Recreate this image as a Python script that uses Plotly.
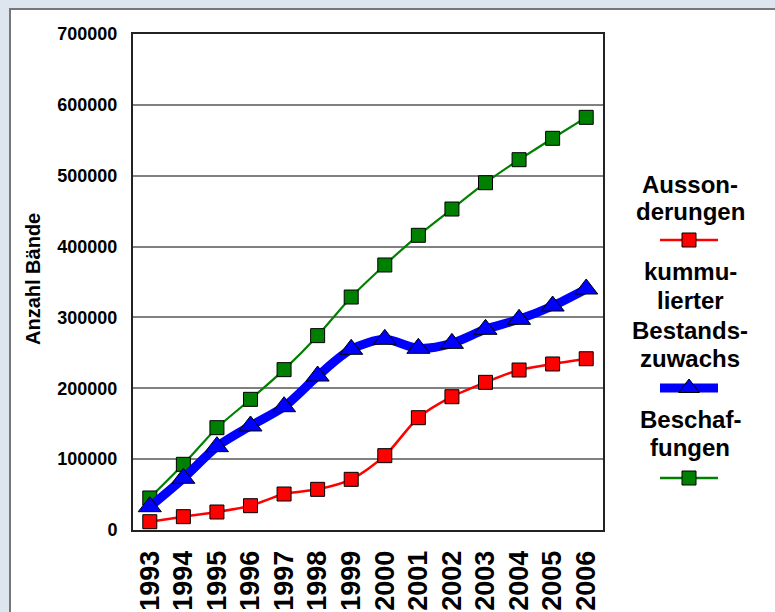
import plotly.graph_objects as go

years = ["1993", "1994", "1995", "1996", "1997", "1998", "1999",
         "2000", "2001", "2002", "2003", "2004", "2005", "2006"]
aussonderungen = [11700, 18800, 25400, 34300, 50800, 57400, 71500,
                  104900, 158500, 188100, 208400, 225800, 234300, 241700]
bestandszuwachs = [32900, 73000, 117600, 146800, 174000, 217300, 255000,
                   269100, 256400, 263400, 283200, 297300, 316100, 340100]
beschaffungen = [45200, 92700, 144400, 184400, 226300, 274300, 328800,
                 374000, 415900, 453000, 490100, 522600, 552800, 582400]
y_ticks = [0, 100000, 200000, 300000, 400000, 500000, 600000, 700000]

W, H = 775, 612
FONT = "Liberation Sans, Arial, sans-serif"

fig = go.Figure()

fig.add_trace(go.Scatter(
    x=years, y=beschaffungen, mode="lines+markers", name="Beschaffungen",
    line=dict(color="#008000", width=2.2, shape="spline", smoothing=0.4),
    marker=dict(symbol="square", size=14, color="#008000", line=dict(color="black", width=1)),
))
fig.add_trace(go.Scatter(
    x=years, y=bestandszuwachs, mode="lines+markers", name="kummulierter Bestandszuwachs",
    line=dict(color="#0000ff", width=9, shape="spline", smoothing=0.8),
    marker=dict(symbol="triangle-up", size=20, color="#0000ff", line=dict(color="black", width=1)),
))
fig.add_trace(go.Scatter(
    x=years, y=aussonderungen, mode="lines+markers", name="Aussonderungen",
    line=dict(color="#ff0000", width=2.5, shape="spline", smoothing=0.8),
    marker=dict(symbol="square", size=14, color="#ff0000", line=dict(color="black", width=1)),
))

# custom legend samples (text above sample, centered)
legend_items = [
    (["Ausson-", "derungen"], [184, 211], 240, "#ff0000", 2.5, "square", 14),
    (["kummu-", "lierter", "Bestands-", "zuwachs"], [271, 300, 330, 358], 388, "#0000ff", 9, "triangle-up", 18),
    (["Beschaf-", "fungen"], [419, 447], 478, "#008000", 2.5, "square", 14),
]
annotations = []
for lines, ys, sy, col, lw, sym, ms in legend_items:
    fig.add_trace(go.Scatter(
        x=[0, 1], y=[sy, sy], mode="lines", xaxis="x2", yaxis="y2",
        line=dict(color=col, width=lw), showlegend=False, hoverinfo="skip"))
    fig.add_trace(go.Scatter(
        x=[0.5], y=[sy], mode="markers", xaxis="x2", yaxis="y2",
        marker=dict(symbol=sym, size=ms, color=col, line=dict(color="black", width=1)),
        showlegend=False, hoverinfo="skip"))
    for t, yy in zip(lines, ys):
        annotations.append(dict(
            text="<b>%s</b>" % t, x=690 / W, y=1 - yy / H, xref="paper", yref="paper",
            xanchor="center", yanchor="middle", showarrow=False,
            font=dict(family=FONT, size=24, color="black")))

annotations.append(dict(
    text="<b>Anzahl Bände</b>", x=33 / W, y=1 - 279 / H, xref="paper", yref="paper",
    textangle=-90, xanchor="center", yanchor="middle", showarrow=False,
    font=dict(family=FONT, size=20, color="black")))

fig.update_layout(
    width=W, height=H, autosize=False,
    margin=dict(l=0, r=0, t=0, b=0, pad=0, autoexpand=False),
    paper_bgcolor="#dde6ee",
    plot_bgcolor="rgba(0,0,0,0)",
    showlegend=False,
    annotations=annotations,
    shapes=[dict(type="rect", xref="paper", yref="paper",
                 x0=10 / W, y0=-0.02, x1=1.02, y1=1 - 9 / H,
                 fillcolor="white", line=dict(color="#777777", width=2), layer="below")],
    xaxis=dict(
        domain=[133 / W, 603 / W], type="category", range=[-0.5, 13.5], automargin=False,
        showline=True, linecolor="#222222", linewidth=2, mirror=True,
        showgrid=False, tickangle=-90, ticks="outside", ticklen=8, tickcolor="rgba(0,0,0,0)",
        tickfont=dict(family=FONT, size=27, color="black"),
        tickvals=years, ticktext=["<b>%s</b>" % y for y in years],
    ),
    yaxis=dict(
        domain=[1 - 530 / H, 1 - 34 / H], range=[0, 700000], automargin=False,
        showline=True, linecolor="#222222", linewidth=2, mirror=True,
        showgrid=True, gridcolor="#808080", gridwidth=1.5, zeroline=False,
        tickvals=y_ticks, ticktext=["<b>%d</b>" % v for v in y_ticks],
        ticks="outside", ticklen=10, tickcolor="rgba(0,0,0,0)",
        tickfont=dict(family=FONT, size=18, color="black"),
    ),
    xaxis2=dict(domain=[660 / W, 718 / W], range=[0, 1], visible=False, fixedrange=True),
    yaxis2=dict(domain=[0, 1], range=[H, 0], visible=False, anchor="x2", fixedrange=True),
)

fig.write_html(
    "out.html",
    config={"displayModeBar": False},
    post_script="document.body.style.margin='0';document.body.style.overflow='hidden';",
)
